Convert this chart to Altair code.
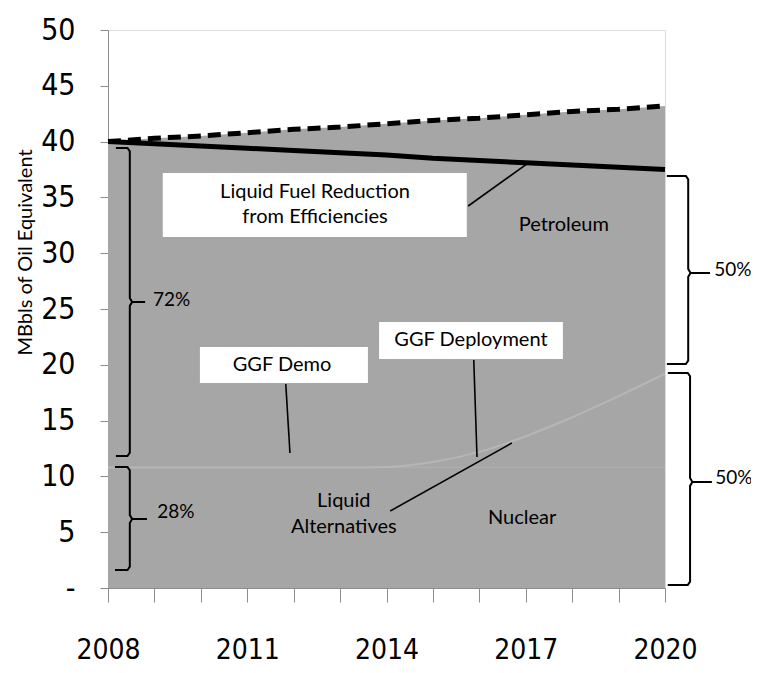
import altair as alt
import pandas as pd

years = list(range(2008, 2021))
total_demand = [40.0, 40.3, 40.5, 40.8, 41.1, 41.3, 41.6, 41.9, 42.1, 42.4, 42.7, 42.9, 43.2]
with_efficiency = [40.0, 39.8, 39.6, 39.4, 39.2, 39.0, 38.8, 38.5, 38.3, 38.1, 37.9, 37.7, 37.5]
nuclear_top = [10.8, 10.8, 10.8, 10.8, 10.8, 10.8, 10.8, 10.8, 10.8, 10.8, 10.8, 10.8, 10.8]
liquid_alt_top = [10.8, 10.8, 10.8, 10.8, 10.8, 10.8, 10.85, 11.3, 12.2, 13.6, 15.3, 17.2, 19.2]

# annotation boxes (data units)
box_labels = ["Liquid Fuel Reduction\nfrom Efficiencies", "GGF Demo", "GGF Deployment"]
box_x1 = [2009.18, 2009.98, 2013.84]
box_x2 = [2015.73, 2013.60, 2017.80]
box_y1 = [37.19, 21.59, 23.84]
box_y2 = [31.45, 18.37, 20.52]
box_tx = [2012.46, 2011.75, 2015.82]
box_ty = [35.48, 19.98, 22.22]

# free labels
lab_text = ["Petroleum", "Nuclear", "Liquid\nAlternatives"]
lab_x = [2017.82, 2016.92, 2013.08]
lab_y = [32.53, 6.27, 7.80]

# leader lines
lead_x1 = [2015.76, 2011.83, 2015.88, 2014.08]
lead_y1 = [34.23, 18.28, 20.43, 6.90]
lead_x2 = [2017.05, 2011.92, 2015.95, 2016.70]
lead_y2 = [38.08, 12.10, 11.74, 12.99]

# braces: end-x, spine-x, point-x, top, mid, bottom
brace_end = [2008.17, 2008.15, 2020.04, 2020.06]
brace_spine = [2008.47, 2008.47, 2020.50, 2020.54]
brace_point = [2008.80, 2008.84, 2020.97, 2021.01]
brace_top = [39.43, 10.84, 36.92, 19.27]
brace_mid = [25.63, 6.18, 28.23, 9.50]
brace_bot = [11.83, 1.61, 20.07, 0.27]
pct_text = ["72%", "28%", "50%", "50%"]
pct_x = [2008.97, 2009.06, 2021.06, 2021.08]
pct_y = [25.81, 6.81, 28.49, 9.86]

GRAY = "#a6a6a6"
TXT_FONT = "Lato"
NUM_FONT = "DejaVu Sans Condensed"

series = pd.DataFrame({"year": years, "total": total_demand, "eff": with_efficiency,
                       "nuc": nuclear_top, "alt": liquid_alt_top})

x_enc = alt.X("year:Q", scale=alt.Scale(domain=[2008, 2020], nice=False, zero=False),
              axis=alt.Axis(values=years, format="d",
                            labelExpr="(datum.value - 2008) % 3 == 0 ? datum.label : ''",
                            tickSize=14, labelPadding=34, domainColor="#8c8c8c",
                            tickColor="#8c8c8c", labelFont=NUM_FONT, labelFontSize=28,
                            labelColor="black", grid=False, title=None, labelFlush=False))
y_scale = alt.Scale(domain=[0, 50], nice=False)
y_axis = alt.Axis(values=list(range(0, 51, 5)), labelExpr="datum.value == 0 ? '-' : datum.label",
                  tickSize=8, labelPadding=25, domainColor="#8c8c8c", tickColor="#8c8c8c",
                  labelFont=NUM_FONT, labelFontSize=30, labelColor="black", grid=False,
                  title="MBbls of Oil Equivalent", titleFont=TXT_FONT, titleFontSize=20,
                  titleFontWeight="normal", titleColor="black", titleX=-83, titleY=222,
                  titleAngle=-90, titleAlign="center", titleBaseline="middle")

area = alt.Chart(series).mark_area(color=GRAY, opacity=1).encode(
    x=x_enc, y=alt.Y("total:Q", scale=y_scale, axis=y_axis))

faint1 = alt.Chart(series).mark_line(color="#aeaeae", strokeWidth=1.2).encode(
    x="year:Q", y=alt.Y("nuc:Q", scale=y_scale))
faint2 = alt.Chart(series).mark_line(color="#b6b6b6", strokeWidth=2, interpolate="monotone").encode(
    x="year:Q", y=alt.Y("alt:Q", scale=y_scale))

dashed = alt.Chart(series).mark_line(color="black", strokeWidth=5, strokeDash=[13, 7]).encode(
    x="year:Q", y=alt.Y("total:Q", scale=y_scale))
solid = alt.Chart(series).mark_line(color="black", strokeWidth=5).encode(
    x="year:Q", y=alt.Y("eff:Q", scale=y_scale))

boxes_df = pd.DataFrame({"x1": box_x1, "x2": box_x2, "y1": box_y1, "y2": box_y2,
                         "tx": box_tx, "ty": box_ty, "label": box_labels})
boxes = alt.Chart(boxes_df).mark_rect(color="white").encode(
    x="x1:Q", x2="x2:Q", y=alt.Y("y1:Q", scale=y_scale), y2="y2:Q")
box_text = alt.Chart(boxes_df).mark_text(font=TXT_FONT, fontSize=20, color="black",
                                         lineBreak="\n", lineHeight=25).encode(
    x="tx:Q", y=alt.Y("ty:Q", scale=y_scale), text="label:N")

labs_df = pd.DataFrame({"x": lab_x, "y": lab_y, "t": lab_text})
labs = alt.Chart(labs_df).mark_text(font=TXT_FONT, fontSize=20, color="black",
                                    lineBreak="\n", lineHeight=26).encode(
    x="x:Q", y=alt.Y("y:Q", scale=y_scale), text="t:N")

lead_df = pd.DataFrame({"x1": lead_x1, "y1": lead_y1, "x2": lead_x2, "y2": lead_y2})
leads = alt.Chart(lead_df).mark_rule(color="black", strokeWidth=1.6).encode(
    x="x1:Q", x2="x2:Q", y=alt.Y("y1:Q", scale=y_scale), y2="y2:Q")

# build brace outlines from their parameters
rows = []
for i in range(len(brace_end)):
    e, s, p, t, m, b = brace_end[i], brace_spine[i], brace_point[i], brace_top[i], brace_mid[i], brace_bot[i]
    sgn = 1 if p > s else -1
    dx = 0.05 * sgn
    pts = [(e, t), (s - dx, t), (s, t - 0.3), (s, m + 0.35), (s + dx, m), (p, m),
           (s + dx, m), (s, m - 0.35), (s, b + 0.3), (s - dx, b), (e, b)]
    for k, (px, py) in enumerate(pts):
        rows.append({"brace": i, "order": k, "x": px, "y": py})
brace_df = pd.DataFrame(rows)
braces = alt.Chart(brace_df).mark_line(color="black", strokeWidth=2, interpolate="linear").encode(
    x="x:Q", y=alt.Y("y:Q", scale=y_scale), detail="brace:N", order="order:Q")

pct_df = pd.DataFrame({"x": pct_x, "y": pct_y, "t": pct_text})
pcts = alt.Chart(pct_df).mark_text(font=TXT_FONT, fontSize=19, color="black", align="left").encode(
    x="x:Q", y=alt.Y("y:Q", scale=y_scale), text="t:N")

chart = alt.layer(area, faint1, faint2, dashed, solid, boxes, box_text, labs, leads, braces, pcts).properties(
    width=557, height=558,
    autosize=alt.AutoSizeParams(type="none"),
    padding={"left": 100, "top": 22, "right": 86, "bottom": 77},
).configure_view(stroke=None).configure(background="white")

chart.save("out.html", embed_options={"renderer": "svg", "actions": False})
